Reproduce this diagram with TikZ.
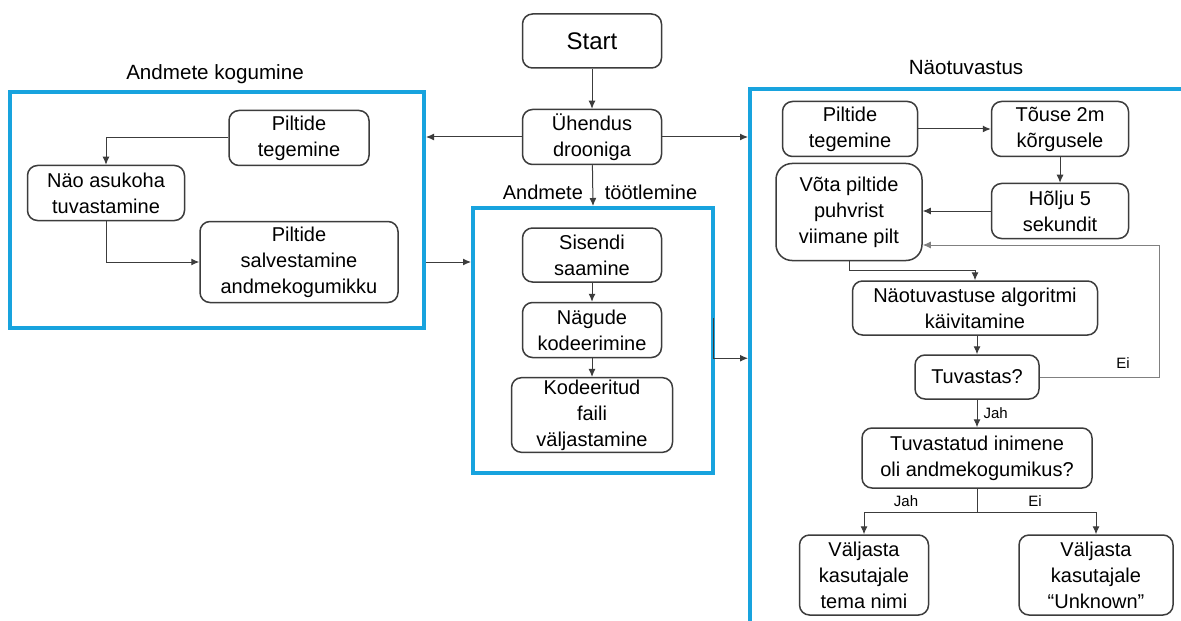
\documentclass[tikz,border=0pt]{standalone}
\usepackage{fontspec}
\setmainfont{Liberation Sans}
\usetikzlibrary{arrows.meta}
\definecolor{rammsinine}{RGB}{24,163,222}
\definecolor{joon}{RGB}{60,60,60}
\tikzset{
  kast/.style={draw=joon, line width=0.75pt, rounded corners=5pt, align=center,
    inner sep=1pt, font=\fontsize{10}{13}\selectfont},
  raam/.style={draw=rammsinine, line width=2pt},
  nool/.style={draw=joon, line width=0.5pt, -{Latex[length=4pt,width=3.5pt]}},
  silt/.style={font=\fontsize{7.5}{8}\selectfont, inner sep=1pt},
  pealkiri/.style={font=\fontsize{10.3}{12}\selectfont, inner sep=1pt}
}
\begin{document}
\begin{tikzpicture}[x=0.5pt,y=-0.5pt]
        \clip (0,0) rectangle (1181,620);
        \fill[white] (0,0) rectangle (1181,620);
        %% groups
        \node[raam, minimum width=207pt, minimum height=118pt] (kogumine) at (217,210) {};
        \node[raam, minimum width=120pt, minimum height=132.5pt] (tootlus) at (593,340.5) {};
        \node[raam, minimum width=250pt, minimum height=300pt] (tuvastus) at (1000,389) {};
        \node[pealkiri] at (215,74) {Andmete kogumine};
        \node[pealkiri] at (966,68) {Näotuvastus};
        \node[font=\fontsize{10}{12}\selectfont, inner sep=1pt] at (600,192) {Andmete\hspace{1.1em}töötlemine};
        %% main line
        \node[kast, minimum width=69.5pt, minimum height=27pt, font=\fontsize{12}{14}\selectfont] (start) at (592,41) {Start};
        \node[kast, minimum width=69.5pt, minimum height=27.5pt] (yhendus) at (592,137) {Ühendus\\drooniga};
        \draw[nool] (start) -- (yhendus);
        \draw[nool] (yhendus.west) -- (kogumine.east |- yhendus.west);
        \draw[nool] (yhendus.east) -- (tuvastus.west |- yhendus.east);
        \draw[nool] (yhendus) -- (tootlus.north);
        %% Andmete kogumine
        \node[kast, minimum width=70pt, minimum height=27.5pt] (piltL) at (299,138) {Piltide\\tegemine};
        \node[kast, minimum width=78.5pt, minimum height=27.5pt] (nao) at (106,193) {Näo asukoha\\tuvastamine};
        \node[kast, minimum width=99pt, minimum height=40.5pt] (salvest) at (299,262) {Piltide\\salvestamine\\andmekogumikku};
        \draw[nool] (piltL.west) -| (nao.north);
        \draw[nool] (nao.south) |- (salvest.west);
        \draw[nool] (kogumine.east |- salvest.west) -- (tootlus.west |- salvest.west);
        %% Andmete töötlemine
        \node[kast, minimum width=69.5pt, minimum height=27pt] (sisend) at (592,255) {Sisendi\\saamine};
        \node[kast, minimum width=69.5pt, minimum height=27.5pt] (kodeer) at (592,330) {Nägude\\kodeerimine};
        \node[kast, minimum width=80.5pt, minimum height=37pt] (fail) at (592,415) {Kodeeritud\\faili\\väljastamine};
        \draw[nool] (sisend) -- (kodeer);
        \draw[nool] (kodeer) -- (fail);
        \coordinate (tick) at (713,318);
        \draw[nool] (tick) |- (tuvastus.west |- kodeer.south);
        %% Näotuvastus
        \node[kast, minimum width=67.5pt, minimum height=27.5pt] (piltR) at (850,129) {Piltide\\tegemine};
        \node[kast, minimum width=68.5pt, minimum height=27.5pt] (touse) at (1060,129) {Tõuse 2m\\kõrgusele};
        \node[kast, minimum width=68.5pt, minimum height=27.5pt] (holju) at (1060,211) {Hõlju 5\\sekundit};
        \node[kast, minimum width=73pt, minimum height=48.5pt, rounded corners=8pt] (vota) at (849,212) {Võta piltide\\puhvrist\\viimane pilt};
        \node[kast, minimum width=122.5pt, minimum height=27pt] (algor) at (975,308) {Näotuvastuse algoritmi\\käivitamine};
        \node[kast, minimum width=62pt, minimum height=22pt] (tuvastas) at (977,377) {Tuvastas?};
        \node[kast, minimum width=115pt, minimum height=30pt] (inimene) at (977,458) {Tuvastatud inimene\\oli andmekogumikus?};
        \node[kast, minimum width=64.5pt, minimum height=40pt] (nimi) at (864,575) {Väljasta\\kasutajale\\tema nimi};
        \node[kast, minimum width=77pt, minimum height=40pt] (unknown) at (1096,575) {Väljasta\\kasutajale\\“Unknown”};
        \draw[nool] (piltR) -- (touse);
        \draw[nool] (touse) -- (holju);
        \draw[nool] (holju.west) -- (vota.east |- holju.west);
        \draw[nool] (vota.south) -- ++(0,9) -| (algor.north);
        \draw[nool] (tuvastas.north |- algor.south) -- (tuvastas.north);
        \coordinate (tagasi) at (1159,245);
        \draw[nool, draw=gray] (tuvastas.east) -| (tagasi) -- (vota.east |- tagasi);
        \node[silt] at (1123,363) {Ei};
        \draw[nool] (tuvastas) -- (inimene) node[silt, midway, right=2pt] {Jah};
        \coordinate (haru) at (977,512);
        \draw[joon, line width=0.5pt] (inimene.south) -- (haru);
        \draw[nool] (haru) -| (nimi.north);
        \draw[nool] (haru) -| (unknown.north);
        \node[silt] at (906,501) {Jah};
        \node[silt] at (1035,501) {Ei};
    \end{tikzpicture}
\end{document}
